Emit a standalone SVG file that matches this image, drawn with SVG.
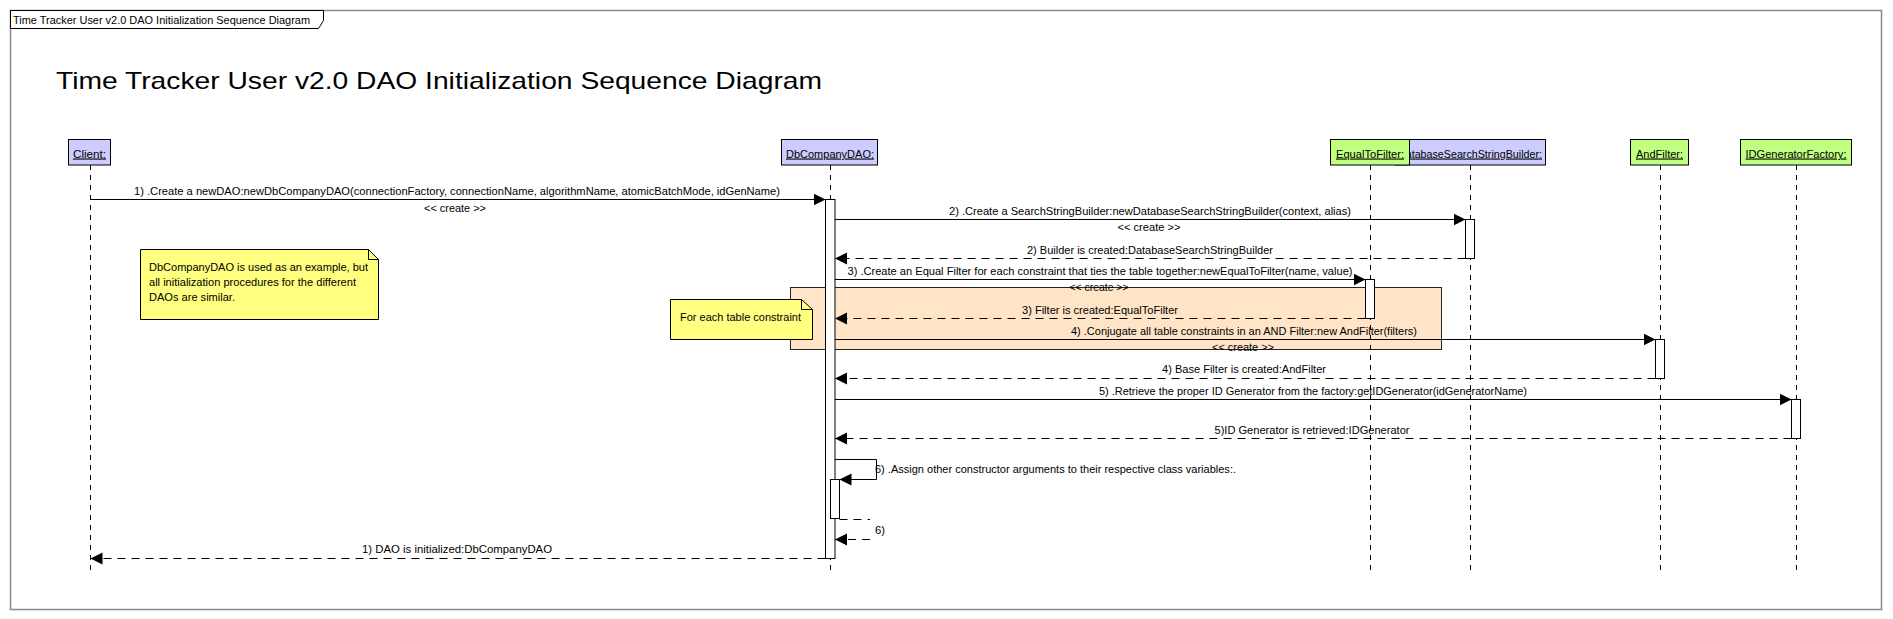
<svg xmlns="http://www.w3.org/2000/svg" width="1893" height="619" viewBox="0 0 1893 619">
<style>
text{font-family:"Liberation Sans",Arial,sans-serif;font-size:11px;fill:#000}
.hdr{stroke:#000;stroke-width:1}
.blue{fill:#CCCCFF}
.green{fill:#C0FF80}
.ht{text-decoration:underline;text-anchor:middle}
.life{stroke:#000;stroke-width:1;stroke-dasharray:5,5;fill:none}
.act{fill:#fff;stroke:#000;stroke-width:1}
.msg{stroke:#000;stroke-width:1;fill:none;marker-end:url(#arr)}
.ret{stroke:#000;stroke-width:1;fill:none;stroke-dasharray:8,6;marker-end:url(#arr)}
.lbl{text-anchor:middle}
.note{fill:#FFFF80;stroke:#000;stroke-width:1}
</style>
<defs>
<marker id="arr" markerUnits="userSpaceOnUse" markerWidth="13" markerHeight="13" viewBox="0 0 13 13" refX="12" refY="6.5" orient="auto">
<path d="M0,0.5 L12,6.5 L0,12.5 z" fill="#000"/>
</marker>
</defs>
<rect width="1893" height="619" fill="#fff"/>
<g id="frame">
<rect x="10.5" y="10.5" width="1871" height="599" fill="none" stroke="#888" stroke-width="1.5"/>
<path d="M10.5,10.5 H323.5 V20.5 L318.5,28.5 H10.5 z" fill="#fff" stroke="#000"/>
<text x="13" y="23.5" textLength="297" lengthAdjust="spacingAndGlyphs">Time Tracker User v2.0 DAO Initialization Sequence Diagram</text>
<text x="56" y="89" style="font-size:24px" textLength="766" lengthAdjust="spacingAndGlyphs">Time Tracker User v2.0 DAO Initialization Sequence Diagram</text>
</g>
<g id="fragment">
<rect x="790.5" y="287.5" width="651" height="62" fill="#FFE4C8" stroke="#222"/>
</g>
<g id="note-example">
<path class="note" d="M140.5,249.5 H368.5 L378.5,259.5 V319.5 H140.5 z"/>
<path d="M368.5,249.5 V259.5 H378.5" fill="none" stroke="#000"/>
<text x="149" y="271" textLength="219" lengthAdjust="spacingAndGlyphs">DbCompanyDAO is used as an example, but</text>
<text x="149" y="286" textLength="207" lengthAdjust="spacingAndGlyphs">all initialization procedures for the different</text>
<text x="149" y="300.5" textLength="86" lengthAdjust="spacingAndGlyphs">DAOs are similar.</text>
</g>
<g id="note-constraint">
<path class="note" d="M670.5,299.5 H801.5 L812.5,309.5 V339.5 H670.5 z"/>
<path d="M801.5,299.5 V309.5 H812.5" fill="none" stroke="#000"/>
<text x="680" y="321" textLength="121" lengthAdjust="spacingAndGlyphs">For each table constraint</text>
</g>
<g id="client">
<line class="life" x1="90.5" y1="165" x2="90.5" y2="573"/>
<rect class="hdr blue" x="68.5" y="139.5" width="42" height="25.5"/>
<text class="ht" x="89.5" y="157.5" textLength="33" lengthAdjust="spacingAndGlyphs">Client:</text>
</g>
<g id="dbcompanydao">
<line class="life" x1="830.5" y1="165" x2="830.5" y2="573"/>
<rect class="hdr blue" x="781.5" y="139.5" width="96" height="25.5"/>
<text class="ht" x="830" y="157.5" textLength="88" lengthAdjust="spacingAndGlyphs">DbCompanyDAO:</text>
<rect class="act" x="825.5" y="199.5" width="9.5" height="359"/>
<rect class="act" x="830.5" y="479.5" width="9" height="39"/>
</g>
<g id="databasesearchstringbuilder">
<line class="life" x1="1470.5" y1="165" x2="1470.5" y2="573"/>
<rect class="hdr blue" x="1395.5" y="139.5" width="150" height="25.5"/>
<text class="ht" x="1470" y="157.5" textLength="144" lengthAdjust="spacingAndGlyphs">DatabaseSearchStringBuilder:</text>
<rect class="act" x="1465.5" y="219.5" width="9" height="39"/>
</g>
<g id="equaltofilter">
<line class="life" x1="1370.5" y1="165" x2="1370.5" y2="573"/>
<rect class="hdr green" x="1330.5" y="139.5" width="79" height="25.5"/>
<text class="ht" x="1370" y="157.5" textLength="68" lengthAdjust="spacingAndGlyphs">EqualToFilter:</text>
<rect class="act" x="1365.5" y="279.5" width="9" height="39"/>
</g>
<g id="andfilter">
<line class="life" x1="1660.5" y1="165" x2="1660.5" y2="573"/>
<rect class="hdr green" x="1630.5" y="139.5" width="58" height="25.5"/>
<text class="ht" x="1659.5" y="157.5" textLength="47" lengthAdjust="spacingAndGlyphs">AndFilter:</text>
<rect class="act" x="1655.5" y="339.5" width="9" height="39"/>
</g>
<g id="idgeneratorfactory">
<line class="life" x1="1796.5" y1="165" x2="1796.5" y2="573"/>
<rect class="hdr green" x="1740.5" y="139.5" width="111" height="25.5"/>
<text class="ht" x="1796" y="157.5" textLength="101" lengthAdjust="spacingAndGlyphs">IDGeneratorFactory:</text>
<rect class="act" x="1791.5" y="399.5" width="9" height="39"/>
</g>
<g id="connectors">
<path class="msg" d="M90.5,199.5 H825.5"/>
<text class="lbl" x="457" y="195" textLength="646" lengthAdjust="spacingAndGlyphs">1) .Create a newDAO:newDbCompanyDAO(connectionFactory, connectionName, algorithmName, atomicBatchMode, idGenName)</text>
<text class="lbl" x="455" y="212" textLength="62" lengthAdjust="spacingAndGlyphs">&lt;&lt; create &gt;&gt;</text>

<path class="msg" d="M835,219.5 H1465.5"/>
<text class="lbl" x="1150" y="215" textLength="402" lengthAdjust="spacingAndGlyphs">2) .Create a SearchStringBuilder:newDatabaseSearchStringBuilder(context, alias)</text>
<text class="lbl" x="1149" y="231" textLength="63" lengthAdjust="spacingAndGlyphs">&lt;&lt; create &gt;&gt;</text>

<path class="ret" d="M1465.5,258.5 H835"/>
<text class="lbl" x="1150" y="254" textLength="246" lengthAdjust="spacingAndGlyphs">2) Builder is created:DatabaseSearchStringBuilder</text>

<path class="msg" d="M835,279.5 H1365.5"/>
<text class="lbl" x="1100" y="275" textLength="505" lengthAdjust="spacingAndGlyphs">3) .Create an Equal Filter for each constraint that ties the table together:newEqualToFilter(name, value)</text>
<text class="lbl" x="1099" y="291" textLength="59" lengthAdjust="spacingAndGlyphs">&lt;&lt; create &gt;&gt;</text>

<path class="ret" d="M1365.5,318.5 H835"/>
<text class="lbl" x="1100" y="314" textLength="156" lengthAdjust="spacingAndGlyphs">3) Filter is created:EqualToFilter</text>

<path class="msg" d="M835,339.5 H1655.5"/>
<text class="lbl" x="1244" y="335" textLength="346" lengthAdjust="spacingAndGlyphs">4) .Conjugate all table constraints in an AND Filter:new AndFilter(filters)</text>
<text class="lbl" x="1243" y="351" textLength="62" lengthAdjust="spacingAndGlyphs">&lt;&lt; create &gt;&gt;</text>

<path class="ret" d="M1655.5,378.5 H835"/>
<text class="lbl" x="1244" y="373" textLength="164" lengthAdjust="spacingAndGlyphs">4) Base Filter is created:AndFilter</text>

<path class="msg" d="M835,399.5 H1791.5"/>
<text class="lbl" x="1313" y="395" textLength="428" lengthAdjust="spacingAndGlyphs">5) .Retrieve the proper ID Generator from the factory:getIDGenerator(idGeneratorName)</text>

<path class="ret" d="M1791.5,438.5 H835"/>
<text class="lbl" x="1312" y="434" textLength="195" lengthAdjust="spacingAndGlyphs">5)ID Generator is retrieved:IDGenerator</text>

<path class="msg" d="M835,459.5 H876.5 V479.5 H839.5"/>
<text x="875" y="473" textLength="361" lengthAdjust="spacingAndGlyphs">6) .Assign other constructor arguments to their respective class variables:.</text>

<path class="ret" d="M839.5,519.5 H870 M870,539.5 H835"/>
<text x="875" y="534" textLength="10" lengthAdjust="spacingAndGlyphs">6)</text>

<path class="ret" d="M825.5,558.5 H90.5"/>
<text class="lbl" x="457" y="553" textLength="190" lengthAdjust="spacingAndGlyphs">1) DAO is initialized:DbCompanyDAO</text>
</g>
</svg>
